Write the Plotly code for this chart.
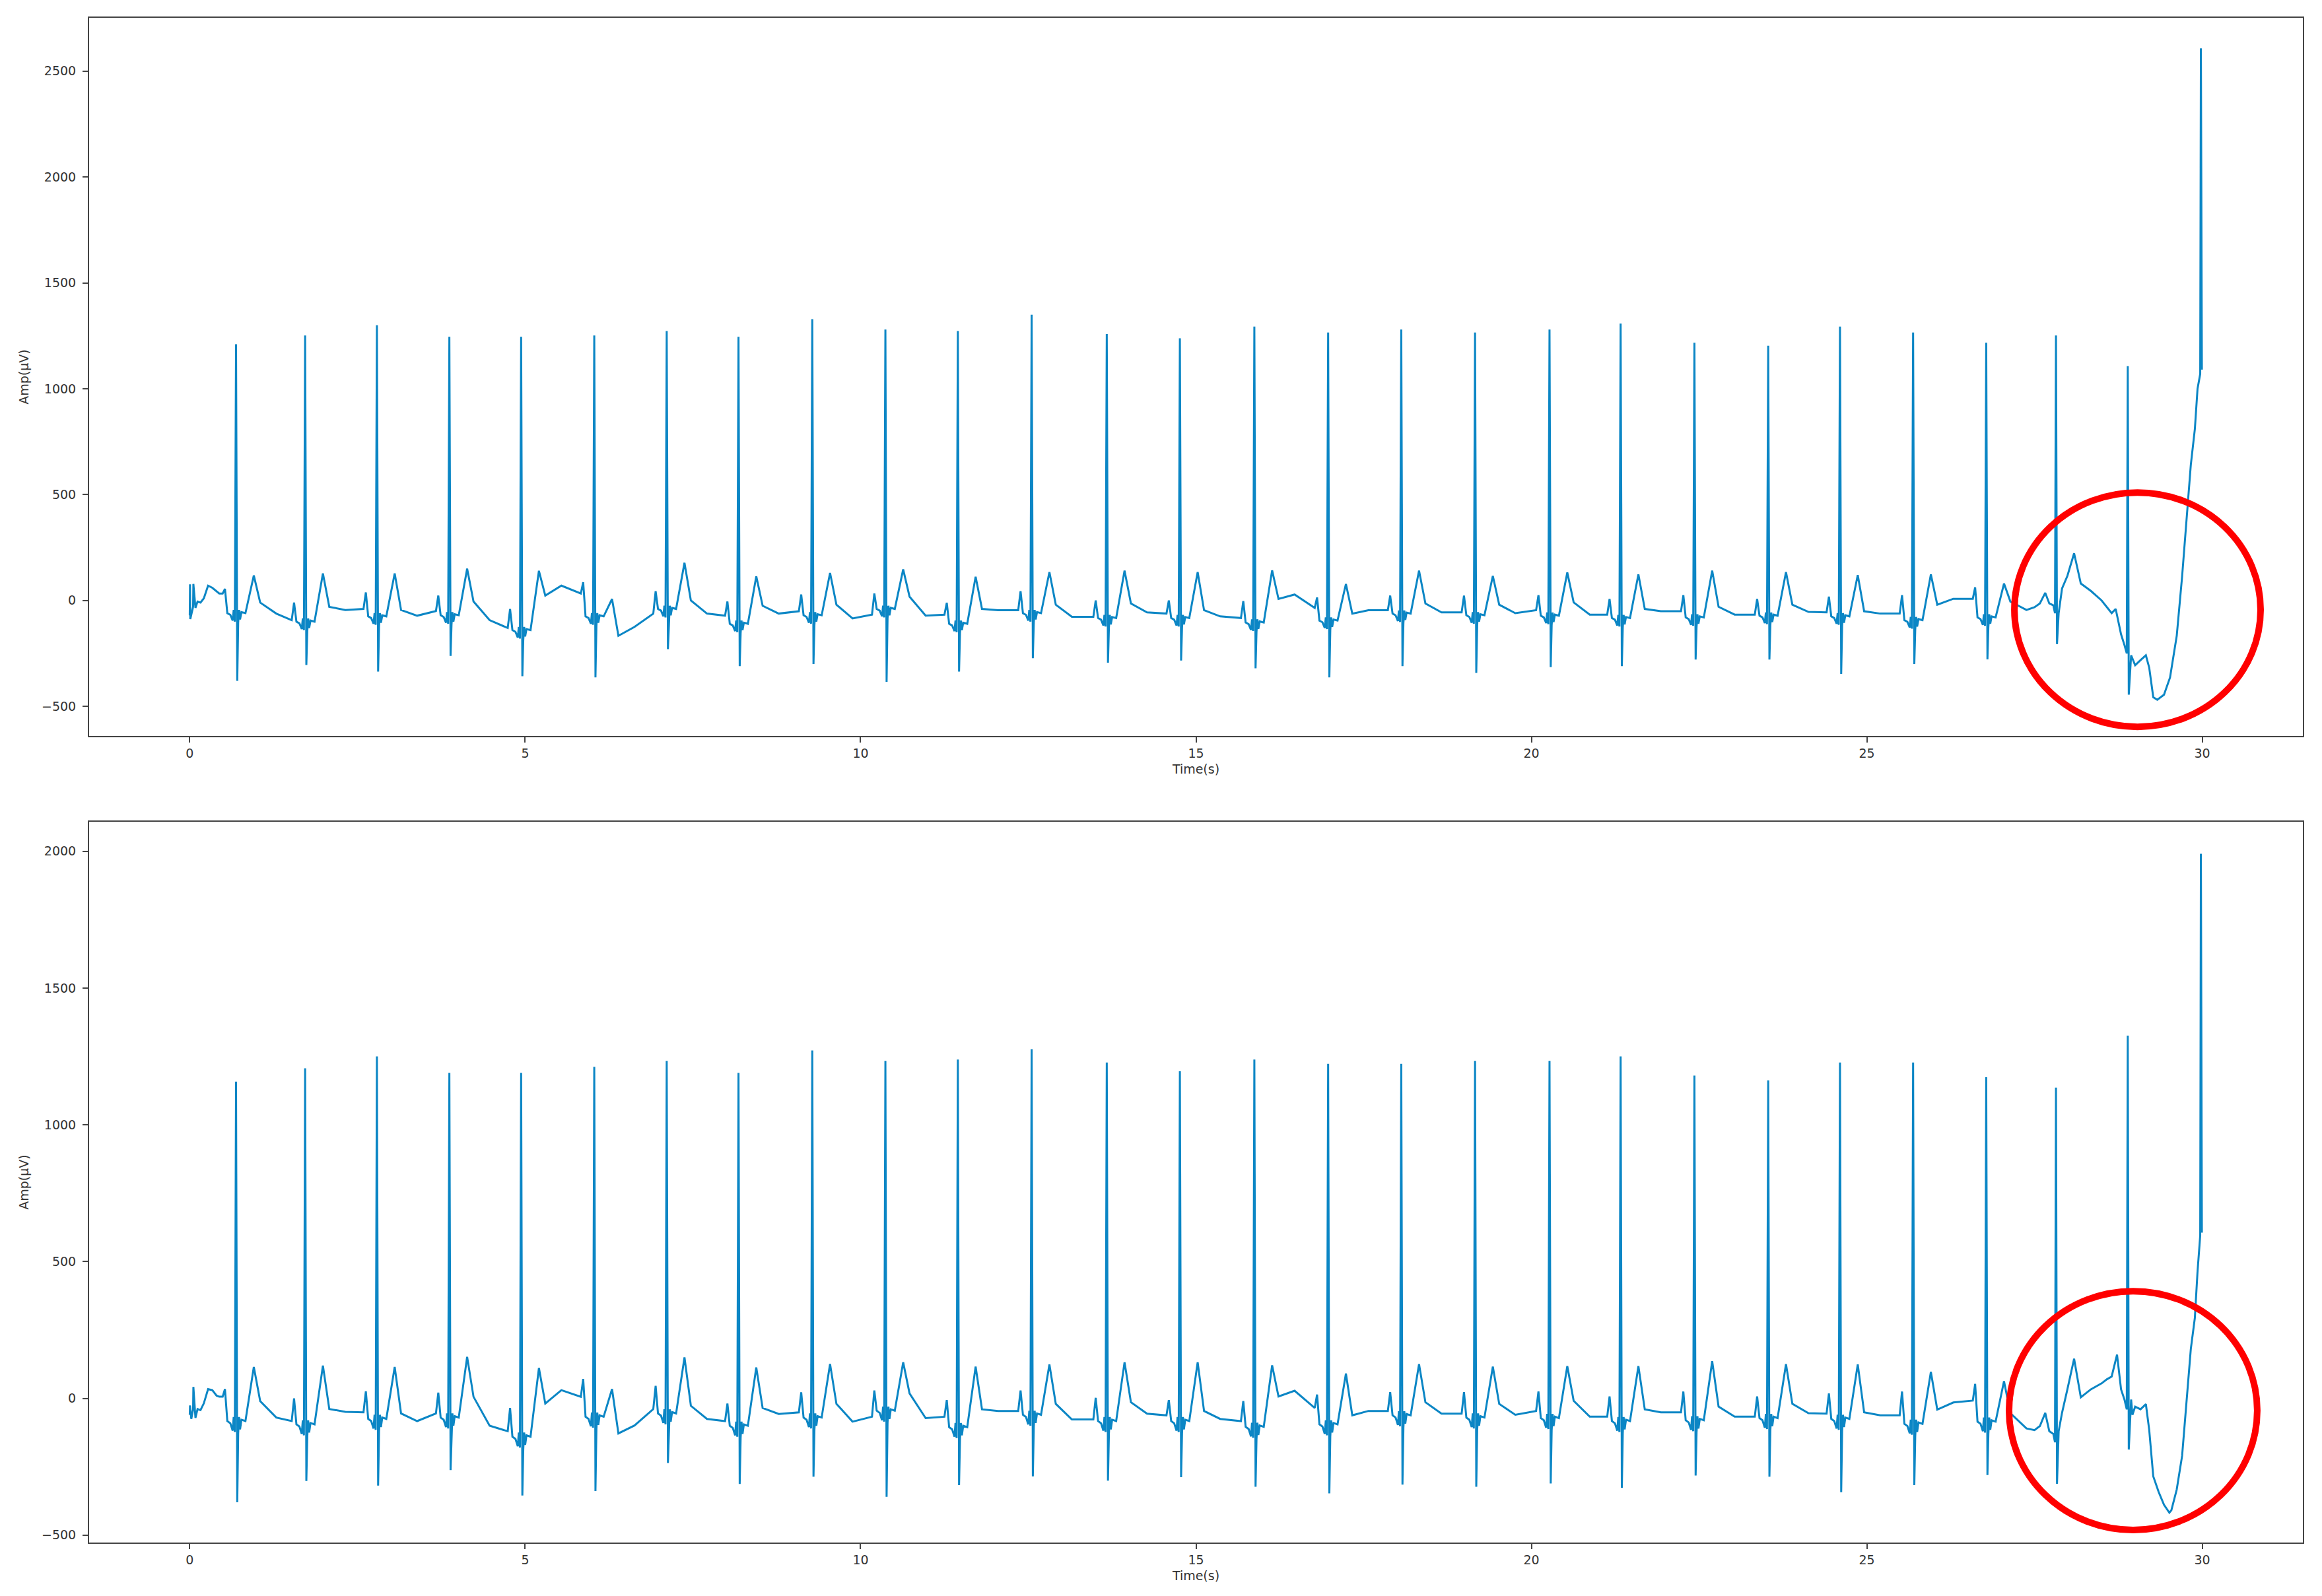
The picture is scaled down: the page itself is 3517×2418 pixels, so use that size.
import plotly.graph_objects as go

# ---------------- data ----------------
# R-peak times (s) of the regular beats 1..25 (shared by both recordings)
beat_t = [0.69, 1.72, 2.79, 3.87, 4.94, 6.03, 7.11, 8.18, 9.28, 10.37, 11.45, 12.55, 13.67,
          14.76, 15.87, 16.97, 18.06, 19.16, 20.27, 21.33, 22.43, 23.53, 24.60, 25.69, 26.78]

# ---- top recording (µV) ----
r_top = [1210, 1252, 1300, 1245, 1245, 1252, 1273, 1245, 1329, 1280, 1273, 1350, 1259,
         1238, 1294, 1266, 1280, 1266, 1280, 1308, 1217, 1203, 1294, 1266, 1217]
s_top = [-380, -305, -336, -262, -358, -363, -230, -310, -300, -384, -336, -273, -294,
         -284, -320, -363, -310, -342, -315, -310, -279, -279, -347, -300, -278]
t_top = [118, 128, 128, 150, 140, 7, 178, 114, 130, 147, 112, 134, 141,
         134, 142, 78, 141, 116, 132, 123, 141, 134, 120, 123, 80]
b_top = [33, -93, -40, -50, -130, 33, -62, -72, -51, -67, -67, -46, -77,
         -62, -83, -35, -46, -56, -46, -67, -51, -67, -56, -62, 8]
p_top = [55, -10, 38, 23, -40, 86, 44, -5, 28, 33, -11, 44, 0,
         0, -3, 14, 23, 23, 25, 7, 25, 7, 18, 25, 62]
q_top = [-60, -100, -75, -70, -140, -75, -40, -110, -70, -40, -110, -60, -83,
         -83, -104, -95, -62, -70, -72, -83, -80, -72, -75, -93, -80]
e_top = [-10, -30, -45, -5, 23, -167, 0, -25, -20, 18, -40, -20, -14,
         -46, 7, -62, -14, -20, -9, -40, -30, -20, -51, -20, -5]
m_top = [-62, -45, -72, -93, 70, -125, -62, -62, -85, -72, -46, -77, -56,
         -75, 28, -46, -56, -60, -67, -51, -67, -54, -62, 8, -45]
lead_t_top = [0.0, 0.004, 0.008, 0.05, 0.054, 0.085, 0.116, 0.16, 0.21, 0.273, 0.336, 0.4, 0.44]
lead_v_top = [-70, 76, -88, -30, 78, -35, -5, -10, 10, 70, 60, 44, 33]
tail_t_top = [27.50, 27.58, 27.66, 27.72, 27.78, 27.805, 27.82, 27.835, 27.86, 27.91,
              27.99, 28.09, 28.19, 28.34, 28.50, 28.65, 28.71, 28.79, 28.84, 28.875,
              28.89, 28.905, 28.94, 29.00, 29.08, 29.16, 29.21, 29.27, 29.33, 29.43,
              29.52, 29.62, 29.70, 29.78, 29.83, 29.89, 29.93, 29.97, 29.98, 29.995]
tail_v_top = [-32, -14, 36, -14, -23, -60, 1252, -206, -60, 56,
              116, 223, 80, 45, 0, -60, -40, -160, -210, -250,
              1107, -445, -259, -306, -282, -259, -318, -457, -469, -445,
              -364, -167, 113, 450, 641, 809, 1000, 1070, 2608, 1090]

# ---- bottom recording (µV) ----
r_bot = [1158, 1207, 1250, 1190, 1190, 1212, 1234, 1190, 1272, 1234, 1239, 1277, 1228,
         1196, 1239, 1223, 1223, 1234, 1234, 1250, 1180, 1163, 1228, 1228, 1174]
s_bot = [-380, -302, -319, -262, -355, -339, -236, -313, -286, -360, -317, -285, -301,
         -288, -323, -347, -315, -323, -311, -327, -282, -286, -343, -317, -280]
t_bot = [115, 120, 115, 152, 111, 34, 150, 113, 126, 132, 116, 124, 132,
         132, 121, 91, 125, 116, 118, 118, 136, 125, 124, 97, 63]
b_bot = [6, -83, -51, -55, -120, 6, -39, -83, -51, -67, -67, -46, -77,
         -62, -83, -35, -46, -56, -46, -67, -51, -67, -56, -62, -8]
p_bot = [34, 0, 26, 21, -35, 71, 46, -19, 22, 29, -6, 29, 2,
         -6, -10, 14, 23, 23, 25, 7, 25, 7, 18, 25, 53]
q_bot = [-83, -95, -75, -70, -140, -67, -55, -100, -70, -45, -105, -60, -83,
         -83, -104, -95, -62, -70, -72, -83, -80, -72, -75, -93, -85]
e_bot = [-10, -39, -55, 6, -19, -128, -27, -35, -20, 18, -40, -20, -14,
         -46, 7, -62, -14, -20, -9, -40, -30, -20, -51, -41, -54]
m_bot = [-70, -49, -83, -100, 30, -99, -75, -57, -85, -72, -46, -77, -56,
         -75, 28, -46, -56, -60, -67, -51, -67, -54, -62, -15, -110]
lead_t_bot = [0.0, 0.004, 0.023, 0.05, 0.054, 0.085, 0.116, 0.16, 0.21, 0.273, 0.336, 0.4, 0.44]
lead_v_bot = [-60, -26, -75, -40, 42, -71, -39, -43, -18, 34, 30, 10, 6]
tail_t_bot = [27.50, 27.58, 27.66, 27.72, 27.78, 27.805, 27.82, 27.835, 27.86, 27.91,
              27.99, 28.09, 28.19, 28.34, 28.50, 28.58, 28.65, 28.73, 28.79, 28.84,
              28.875, 28.89, 28.905, 28.94, 28.96, 29.00, 29.08, 29.16, 29.21, 29.27,
              29.35, 29.43, 29.51, 29.54, 29.62, 29.70, 29.78, 29.83, 29.89, 29.93,
              29.97, 29.98, 29.995]
tail_v_bot = [-116, -101, -53, -120, -130, -160, 1136, -312, -120, -53,
              33, 145, 4, 33, 55, 70, 80, 160, 33, -4,
              -40, 1326, -187, -4, -60, -30, -40, -21, -116, -285,
              -342, -389, -418, -409, -333, -210, 31, 181, 294, 464,
              595, 1991, 606]

x_ticks = [0, 5, 10, 15, 20, 25, 30]
y_ticks_top = [-500, 0, 500, 1000, 1500, 2000, 2500]
y_ticks_bot = [-500, 0, 500, 1000, 1500, 2000]

# ---------------- build the traces ----------------
def build(lead_t, lead_v, R, S, T, B, P, Q, E, M, tail_t, tail_v):
    xs, ys = list(lead_t), list(lead_v)
    for i, r in enumerate(beat_t):
        q = Q[i]
        shape = [(-0.20, B[i]), (-0.165, P[i]), (-0.13, q), (-0.085, q - 8),
                 (-0.05, q - 35), (-0.035, q + 15), (-0.018, q - 40), (0.0, R[i]),
                 (0.018, S[i]), (0.032, q - 45), (0.045, q + 15), (0.06, q - 30),
                 (0.08, q + 5), (0.14, q), (0.265, T[i]), (0.36, E[i]), (0.60, M[i])]
        for off, v in shape:
            xs.append(round(r + off, 4))
            ys.append(v)
    xs += tail_t
    ys += tail_v
    return xs, ys

x1, y1 = build(lead_t_top, lead_v_top, r_top, s_top, t_top, b_top, p_top, q_top,
               e_top, m_top, tail_t_top, tail_v_top)
x2, y2 = build(lead_t_bot, lead_v_bot, r_bot, s_bot, t_bot, b_bot, p_bot, q_bot,
               e_bot, m_bot, tail_t_bot, tail_v_bot)

LINE = "#0b86c5"
fig = go.Figure()
fig.add_trace(go.Scatter(x=x1, y=y1, mode="lines", line=dict(color=LINE, width=3),
                         xaxis="x", yaxis="y", showlegend=False))
fig.add_trace(go.Scatter(x=x2, y=y2, mode="lines", line=dict(color=LINE, width=3),
                         xaxis="x2", yaxis="y2", showlegend=False))

FONT = dict(family="DejaVu Sans", size=19, color="#333333")
axis_common = dict(showgrid=False, zeroline=False, showline=True, mirror=True,
                   linecolor="#444444", linewidth=2, ticks="outside", ticklen=8,
                   tickwidth=2, tickcolor="#444444", tickfont=FONT)

fig.update_layout(
    width=3517, height=2418,
    margin=dict(l=135, r=29, t=27, b=81),
    paper_bgcolor="white", plot_bgcolor="white",
    font=FONT,
    xaxis=dict(domain=[0, 1], anchor="y", range=[-1.5, 31.5], tickvals=x_ticks,
               title=dict(text="Time(s)", font=FONT, standoff=8), **axis_common),
    yaxis=dict(domain=[0.529, 1], anchor="x", range=[-640, 2752], tickvals=y_ticks_top,
               ticklabelstandoff=6,
               title=dict(text="Amp(μV)", font=FONT, standoff=14), **axis_common),
    xaxis2=dict(domain=[0, 1], anchor="y2", range=[-1.5, 31.5], tickvals=x_ticks,
                title=dict(text="Time(s)", font=FONT, standoff=8), **axis_common),
    yaxis2=dict(domain=[0, 0.4727], anchor="x2", range=[-527, 2108], tickvals=y_ticks_bot,
                ticklabelstandoff=6,
                title=dict(text="Amp(μV)", font=FONT, standoff=14), **axis_common),
    shapes=[
        dict(type="circle", xref="x", yref="y", x0=27.2, x1=30.87, y0=-597, y1=510,
             line=dict(color="#ff0000", width=10), layer="above"),
        dict(type="circle", xref="x2", yref="y2", x0=27.12, x1=30.82, y0=-481, y1=392,
             line=dict(color="#ff0000", width=10), layer="above"),
    ],
)

fig.write_html("out.html", config={"displayModeBar": False},
               post_script="document.body.style.margin='0';")
